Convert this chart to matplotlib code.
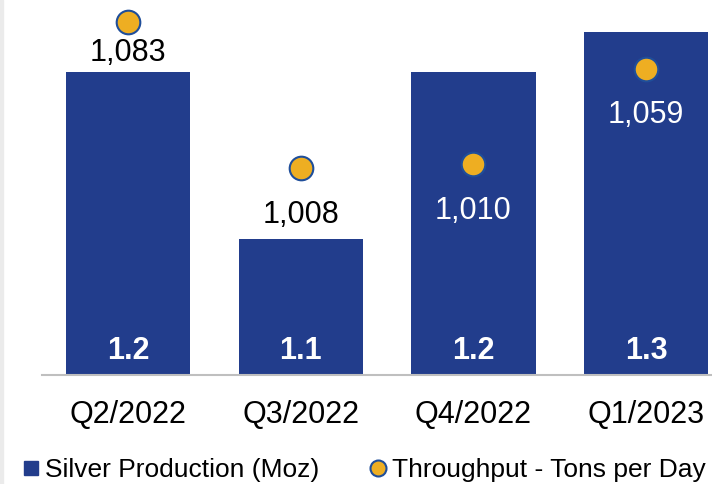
import matplotlib.pyplot as plt
from matplotlib.lines import Line2D
from matplotlib.patches import Rectangle

plt.rcParams['font.family'] = ['Liberation Sans', 'DejaVu Sans']

quarters = ['Q2/2022', 'Q3/2022', 'Q4/2022', 'Q1/2023']
silver_moz = [1.24, 1.115, 1.24, 1.27]
silver_labels = ['1.2', '1.1', '1.2', '1.3']
throughput_tpd = [1083, 1008, 1010, 1059]

bar_color = '#223D8C'
dot_color = '#EEAE22'
dot_edge = '#1F4E9A'

W, H = 712, 484
fig = plt.figure(figsize=(W / 100, H / 100), dpi=100)
ax = fig.add_axes([42 / W, 109 / H, 670 / W, 375 / H])

x = list(range(len(quarters)))
ax.bar(x, silver_moz, width=0.72, color=bar_color, zorder=2)
ax.set_xlim(-0.5, 3.382)
ax.set_ylim(1.013, 1.294)
ax.set_yticks([])
ax.set_xticks(x)
ax.set_xticklabels(quarters, fontsize=22)
ax.tick_params(axis='x', length=0, pad=18)
for s in ['top', 'right', 'left']:
    ax.spines[s].set_visible(False)
ax.spines['bottom'].set_color('#BFBFBF')
ax.spines['bottom'].set_linewidth(1.5)

for i, lab in enumerate(silver_labels):
    ax.annotate(lab, xy=(i, 1.013), xytext=(0, 17.5), textcoords='offset points',
                ha='center', va='center', color='white', fontsize=22,
                fontweight='bold', zorder=4)

ax2 = ax.twinx()
ax2.set_ylim(901.7, 1094.3)
ax2.set_yticks([])
for s in ax2.spines.values():
    s.set_visible(False)
ax2.plot(x, throughput_tpd, linestyle='none', marker='o', markersize=17,
         markerfacecolor=dot_color, markeredgecolor=dot_edge,
         markeredgewidth=1.5, clip_on=False, zorder=3)

label_offsets = [-22.5, -34, -34, -33.5]
label_colors = ['black', 'black', 'white', 'white']
for i, v in enumerate(throughput_tpd):
    ax2.annotate(f'{v:,}', xy=(i, v), xytext=(0, label_offsets[i]),
                 textcoords='offset points', ha='center', va='center',
                 fontsize=22, color=label_colors[i])

# light strip on the left edge
fig.patches.append(Rectangle((0, 0), 3 / W, 1, transform=fig.transFigure,
                             color='#EBEBEB', zorder=0))

handles = [
    Line2D([], [], linestyle='none', marker='s', markersize=9.5,
           markerfacecolor=bar_color, markeredgecolor=bar_color),
    Line2D([], [], linestyle='none', marker='o', markersize=11.5,
           markerfacecolor=dot_color, markeredgecolor=dot_edge,
           markeredgewidth=1.5),
]
fig.legend(handles, ['Silver Production (Moz)', 'Throughput - Tons per Day'],
           loc='center left', bbox_to_anchor=(23 / W, 14 / H), ncol=2,
           frameon=False, fontsize=19, handlelength=0.6, handletextpad=0.25,
           columnspacing=1.9, borderpad=0, borderaxespad=0)

fig.savefig('out.png', dpi=100)
